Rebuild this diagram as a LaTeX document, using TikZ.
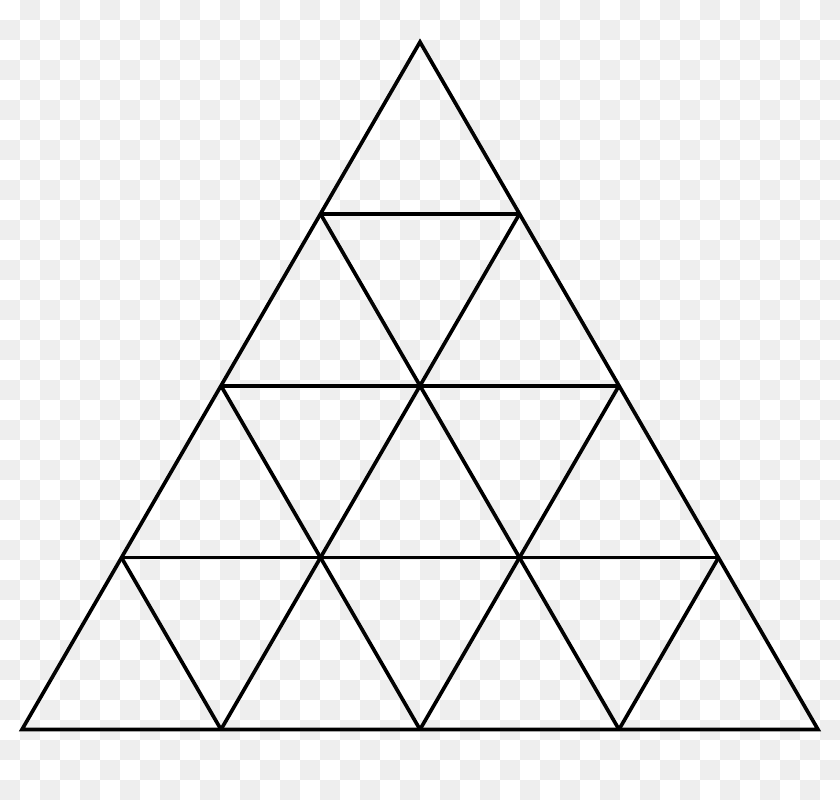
\documentclass[tikz,border=0pt]{standalone}
\usepackage{tikz}
\usetikzlibrary{calc}
\definecolor{checker_gray}{RGB}{238,238,238}
\definecolor{edge_black}{RGB}{0,0,0}

\begin{document}
\begin{tikzpicture}[x=0.3mm,y=-0.3mm]
    \tikzstyle{checker}=[fill=checker_gray]
    \tikzstyle{gridline}=[draw=edge_black, line width=1.1mm, line join=miter]

    % background squares
    \fill[white] (0,0) rectangle (840,800);
    \foreach \i in {0,...,41}{
      \foreach \j in {0,...,39}{
        \pgfmathtruncatemacro\s{\i+\j}
        \ifodd\s \fill[checker] (\i*20,\j*20) rectangle ++(20,20); \fi
      }
    }
    \useasboundingbox (0,0) rectangle (840,800);

    \coordinate (apex)  at (420,42);
    \coordinate (left)  at (22,729.5);
    \coordinate (right) at (818,729.5);

    \foreach \k in {1,2,3}{
      \coordinate (l\k) at ($(apex)!\k/4!(left)$);
      \coordinate (r\k) at ($(apex)!\k/4!(right)$);
      \coordinate (b\k) at ($(left)!\k/4!(right)$);
    }
    \foreach \k/\m in {1/3,2/2,3/1}{
      \draw[gridline] (l\k) -- (r\k);
      \draw[gridline] (b\k) -- (r\k);
      \draw[gridline] (b\k) -- (l\m);
    }
    \draw[gridline] (apex) -- (left) -- (right) -- cycle;
\end{tikzpicture}
\end{document}
